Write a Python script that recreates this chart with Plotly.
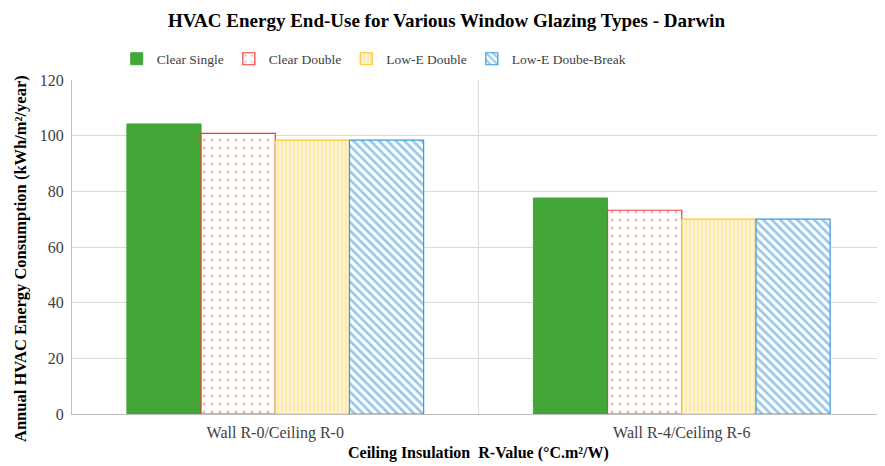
import plotly.graph_objects as go

categories = ["Wall R-0/Ceiling R-0", "Wall R-4/Ceiling R-6"]
series_names = ["Clear Single", "Clear Double", "Low-E Double", "Low-E Doube-Break"]
clear_single = [104.2, 77.6]
clear_double = [100.8, 73.2]
lowe_double = [98.4, 70.0]
lowe_break = [98.4, 70.0]
y_ticks = [0, 20, 40, 60, 80, 100, 120]

FONT = "Liberation Serif, Times New Roman, serif"

fig = go.Figure()
fig.add_trace(go.Bar(name=series_names[0], x=categories, y=clear_single,
                     marker=dict(color="#43A737", line=dict(color="#43A737", width=1))))
fig.add_trace(go.Bar(name=series_names[1], x=categories, y=clear_double,
                     marker=dict(color="white", line=dict(color="#EE3A3A", width=1.2),
                                 pattern=dict(shape=".", fgcolor="#F06A6A", bgcolor="white",
                                              size=8, solidity=0.1))))
fig.add_trace(go.Bar(name=series_names[2], x=categories, y=lowe_double,
                     marker=dict(color="#FFF3CC", line=dict(color="#FFC526", width=1.2),
                                 pattern=dict(shape="|", fgcolor="#FFD966", bgcolor="#FFF4D4",
                                              size=4, solidity=0.35))))
fig.add_trace(go.Bar(name=series_names[3], x=categories, y=lowe_break,
                     marker=dict(color="white", line=dict(color="#3A9AD9", width=1.2),
                                 pattern=dict(shape="\\", fgcolor="#2E90D6", bgcolor="white",
                                              size=6, solidity=0.45))))

fig.add_shape(type="line", xref="x", yref="paper", x0=0.5, x1=0.5, y0=0, y1=1,
              line=dict(color="#D9D9D9", width=1))

# axis titles as annotations for precise placement
fig.add_annotation(text="<b>Annual HVAC Energy Consumption (kWh/m²/year)</b>",
                   xref="paper", yref="paper", x=-52 / 813, y=0.464, textangle=-90,
                   showarrow=False, xanchor="center", yanchor="middle",
                   font=dict(family=FONT, size=16.5, color="black"))
fig.add_annotation(text="<b>Ceiling Insulation  R-Value (°C.m²/W)</b>",
                   xref="paper", yref="paper", x=0.5, y=-39 / 334,
                   showarrow=False, xanchor="center", yanchor="middle",
                   font=dict(family=FONT, size=16, color="black"))

fig.update_layout(
    width=877, height=458,
    margin=dict(l=64, r=0, t=72, b=52),
    paper_bgcolor="white", plot_bgcolor="white",
    barmode="group", bargap=0.27, bargroupgap=0,
    font=dict(family=FONT, size=14, color="#404040"),
    title=dict(text="<b>HVAC Energy End-Use for Various Window Glazing Types - Darwin</b>",
               x=0.5, xanchor="center", xref="container", y=0.974, yref="container",
               yanchor="middle",
               font=dict(family=FONT, size=19, color="black")),
    legend=dict(orientation="h", x=0.055, xanchor="left",
                y=1.063, yanchor="middle",
                font=dict(family=FONT, size=13.5, color="#404040"),
                traceorder="normal"),
    xaxis=dict(showline=True, linecolor="#BFBFBF", ticks="", showgrid=False,
               automargin=False, ticklabelstandoff=4,
               tickfont=dict(family=FONT, size=16, color="#404040")),
    yaxis=dict(range=[0, 120], tickvals=y_ticks, showline=True, linecolor="#BFBFBF",
               gridcolor="#D9D9D9", zeroline=False, ticks="", automargin=False,
               ticklabelstandoff=4,
               tickfont=dict(family=FONT, size=16, color="#404040")),
)

fig.write_html("out.html")
